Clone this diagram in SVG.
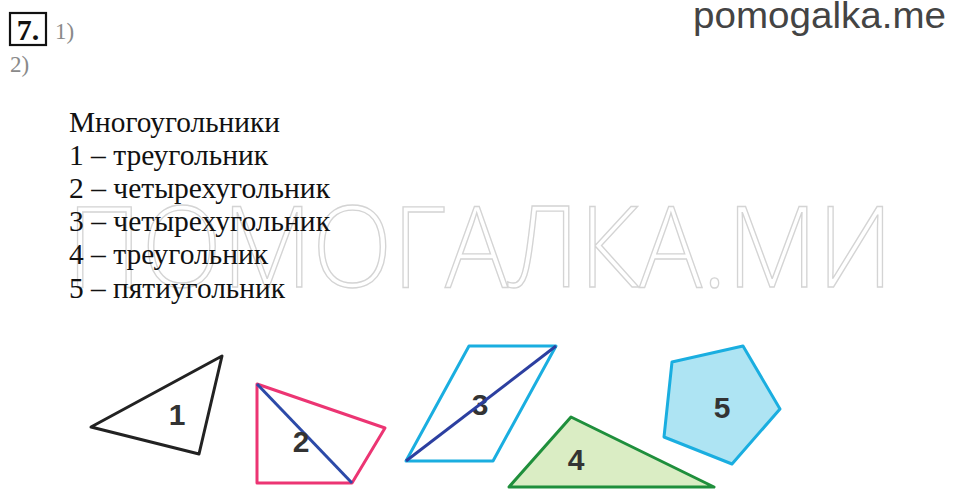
<svg xmlns="http://www.w3.org/2000/svg" width="960" height="497" viewBox="0 0 960 497">
<style>
.txt{font-family:"Liberation Serif","Times New Roman",serif;font-size:29px;fill:#111}
.gray{font-family:"Liberation Serif","Times New Roman",serif;font-size:23px;fill:#8a8a8a}
.lbl{font-family:"Liberation Sans",Arial,sans-serif;font-size:30px;font-weight:bold;fill:#333;text-anchor:middle}
.wm{font-family:"Open Sans","Liberation Sans",sans-serif;font-weight:300;font-size:112px;fill:#fff;stroke:#d4d4d4;stroke-width:1.4}
.shape{stroke-width:3;stroke-linejoin:round}
</style>
<rect width="960" height="497" fill="#fff"/>
<g id="header">
<rect x="10" y="13" width="36" height="32" fill="none" stroke="#111" stroke-width="2.2"/>
<text x="28" y="40" font-family="Liberation Serif,serif" font-size="30" font-weight="bold" fill="#111" text-anchor="middle">7.</text>
<text class="gray" x="55" y="39">1)</text>
<text class="gray" x="10" y="72">2)</text>
<text x="693" y="28" font-family="Liberation Sans,Arial,sans-serif" font-size="36" fill="#444" textLength="253" lengthAdjust="spacingAndGlyphs">pomogalka.me</text>
</g>
<g id="watermark">
<text class="wm" x="67" y="287" textLength="826" lengthAdjust="spacingAndGlyphs">ПОМОГАЛКА.МИ</text>
</g>
<g id="answer">
<text class="txt" x="69" y="132" textLength="211" lengthAdjust="spacingAndGlyphs">Многоугольники</text>
<text class="txt" x="69" y="165" textLength="199" lengthAdjust="spacingAndGlyphs">1 – треугольник</text>
<text class="txt" x="69" y="198" textLength="261" lengthAdjust="spacingAndGlyphs">2 – четырехугольник</text>
<text class="txt" x="69" y="231" textLength="261" lengthAdjust="spacingAndGlyphs">3 – четырехугольник</text>
<text class="txt" x="69" y="264" textLength="199" lengthAdjust="spacingAndGlyphs">4 – треугольник</text>
<text class="txt" x="69" y="298" textLength="216" lengthAdjust="spacingAndGlyphs">5 – пятиугольник</text>
</g>
<g id="shape1">
<polygon class="shape" points="91,427 222,356 199,454" fill="none" stroke="#222"/>
<text class="lbl" x="177" y="425">1</text>
</g>
<g id="shape2">
<polygon class="shape" points="257,384 385,428 352,483 257,483" fill="none" stroke="#ec3573"/>
<line x1="257" y1="384" x2="352" y2="483" stroke="#2c4aa8" stroke-width="3"/>
<text class="lbl" x="301" y="452">2</text>
</g>
<g id="shape3">
<polygon class="shape" points="469,346 556,346 493,461 406,461" fill="none" stroke="#1aaee0"/>
<text class="lbl" x="480" y="415">3</text>
<line x1="406" y1="461" x2="556" y2="346" stroke="#2c3fa0" stroke-width="3"/>
</g>
<g id="shape4">
<polygon class="shape" points="571,417 714,487 509,487" fill="#daedc4" stroke="#1f8f3c"/>
<text class="lbl" x="576" y="470">4</text>
</g>
<g id="shape5">
<polygon class="shape" points="672,362 743,346 780,409 732,464 664,437" fill="#aee4f3" stroke="#1aaee0"/>
<text class="lbl" x="722" y="418">5</text>
</g>
<g id="connectors"/>
</svg>
